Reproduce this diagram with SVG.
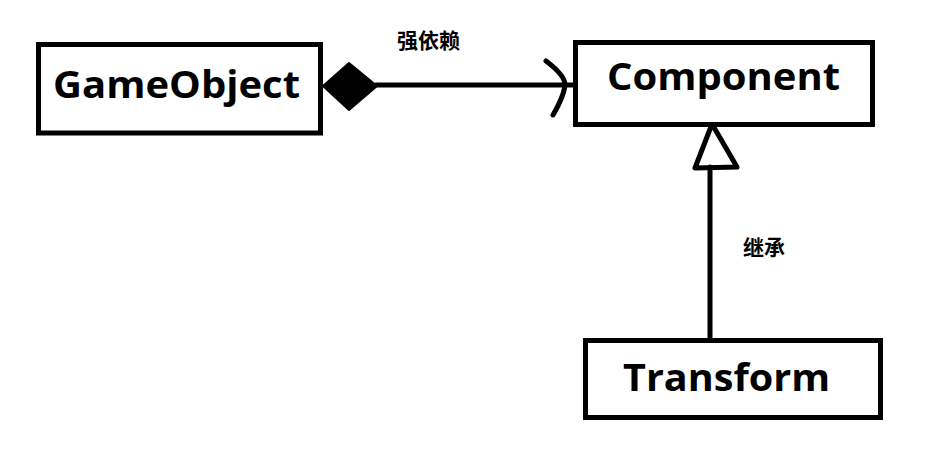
<svg xmlns="http://www.w3.org/2000/svg" width="940" height="449" viewBox="0 0 940 449">
<style>
.box{fill:#fff;stroke:#000;stroke-width:5}
.name{font-family:"Open Sans","Noto Sans","Liberation Sans",sans-serif;font-weight:bold;font-size:38px;fill:#000}
.lbl{font-family:"Noto Sans CJK SC","Noto Sans",sans-serif;font-weight:bold;font-size:21px;fill:#000}
.ln{fill:none;stroke:#000;stroke-width:5;stroke-linecap:round;stroke-linejoin:round}
</style>
<rect width="940" height="449" fill="#fff"/>
<g id="connectors">
<line class="ln" x1="376" y1="85" x2="576" y2="85"/>
<polygon points="323,86 349,63 377,86 349,110" fill="#000" stroke="#000" stroke-width="2" stroke-linejoin="round"/>
<path class="ln" stroke-width="4" d="M546,61 Q566,76 565,86 Q563,98 553,115"/>
<line class="ln" x1="710" y1="167" x2="710" y2="338"/>
<polygon class="ln" stroke-width="4.5" points="712,124 695,168 737,167"/>
<text class="lbl" x="397" y="48">强依赖</text>
<text class="lbl" x="743" y="255">继承</text>
</g>
<g id="GameObject">
<rect class="box" x="38.5" y="44.5" width="282" height="88.5"/>
<text class="name" x="53" y="98" textLength="247" lengthAdjust="spacingAndGlyphs">GameObject</text>
</g>
<g id="Component">
<rect class="box" x="575.5" y="42.5" width="297" height="82"/>
<text class="name" x="607" y="90" textLength="233" lengthAdjust="spacingAndGlyphs">Component</text>
</g>
<g id="Transform">
<rect class="box" x="585.5" y="340.5" width="295" height="77"/>
<text class="name" x="623" y="391" font-size="41" textLength="207" lengthAdjust="spacingAndGlyphs">Transform</text>
</g>
</svg>
